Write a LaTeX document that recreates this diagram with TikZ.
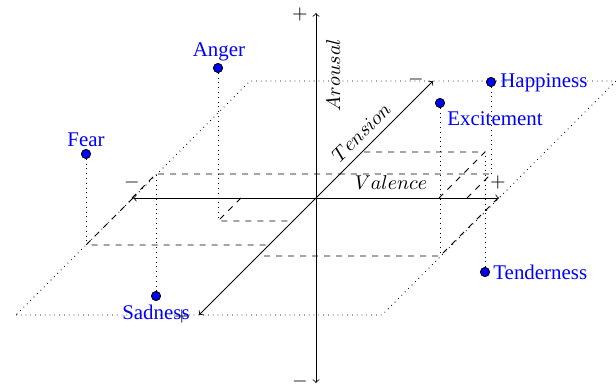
\documentclass[tikz,border=0pt]{standalone}
\usepackage{fontspec}
\setmainfont{Liberation Serif}
\begin{document}
\begin{tikzpicture}[x=0.5pt,y=0.5pt,
  emo/.style={circle,fill=blue,draw=black,line width=0.4pt,inner sep=0pt,minimum size=4.5pt},
  lbl/.style={text=blue,inner sep=0pt,font=\fontsize{10.45pt}{12.5pt}\selectfont},
  sgn/.style={inner sep=0pt,font=\fontsize{10.45pt}{12.5pt}\selectfont},
  axisline/.style={<->,black},
  projline/.style={dashed},
  dropline/.style={dotted},
  planeline/.style={dotted}]
\useasboundingbox (0,0) rectangle (616,386);
% plane
\coordinate (c1) at (16,71);
\coordinate (c2) at (382,71);
\coordinate (c3) at (616,305);
\coordinate (c4) at (250,305);
\draw[planeline] (c1) -- (c2) -- (c3) -- (c4) -- cycle;
% axes coordinates
\coordinate (O) at (316,188);
\coordinate (vneg) at (133,188);
\coordinate (vpos) at (499,188);
\coordinate (aneg) at (316,3);
\coordinate (apos) at (316,373);
\coordinate (tpos) at (199,71);
\coordinate (tneg) at (433,305);
% emotion points
\node[emo] (anger) at (218,318) {};
\node[emo] (fear) at (86,232) {};
\node[emo] (sad) at (156,90) {};
\node[emo] (hap) at (491,304) {};
\node[emo] (exc) at (440,283) {};
\node[emo] (ten) at (485,114) {};
% projections
\coordinate (angerp) at (218,165); \coordinate (angervf) at (241,188); \coordinate (angertf) at (293,165);
\coordinate (fearp) at (86,141);   \coordinate (fearvf) at (133,188);  \coordinate (feartf) at (269,141);
\coordinate (sadp) at (156,212);   \coordinate (sadvf) at (132,188);   \coordinate (sadtf) at (340,212);
\coordinate (happ) at (491,212);   \coordinate (hapvf) at (467,188);   \coordinate (haptf) at (340,212);
\coordinate (excp) at (440,130);   \coordinate (excvf) at (498,188);   \coordinate (exctf) at (258,130);
\coordinate (tenp) at (485,234);   \coordinate (tenvf) at (439,188);   \coordinate (tentf) at (362,234);
\foreach \p in {anger,fear,sad,hap,exc,ten}{
  \draw[projline] (\p vf) -- (\p p) -- (\p tf);
}
\draw[dropline] (anger) -- (angerp);
\draw[dropline] (fear) -- (fearp);
\draw[dropline] (sad) -- (sadp);
\draw[dropline] (hap) -- (happ);
\draw[dropline] (exc) -- (excp);
\draw[dropline] (ten) -- (tenp);
% axes
\draw[axisline] (vneg) -- (vpos);
\draw[axisline] (aneg) -- (apos);
\draw[axisline] (tpos) -- (tneg);
% signs
\node[sgn] (vm) at (132,203) {$-$};
\node[sgn] (vp) at (498,203) {$+$};
\node[sgn] (am) at (300,5) {$-$};
\node[sgn] (ap) at (300,371) {$+$};
\node[sgn] (tm) at (416,306) {$-$};
\node[sgn] (tp) at (182,70) {$+$};
% axis labels
\node[sgn,anchor=base] (vl) at (391,196) {$Valence$};
\node[sgn,rotate=90,anchor=base] (al) at (340,311) {$Arousal$};
\node[sgn,rotate=45,anchor=base] (tl) at (366,249) {$Tension$};
% redraw points on top
\foreach \p in {anger,fear,sad,hap,exc,ten}{
  \fill[blue,draw=black,line width=0.4pt] (\p) circle (2.25pt);
}
% labels
\node[lbl,anchor=base] (angerl) at (219,329) {Anger};
\node[lbl,anchor=base] (fearl) at (86,239) {Fear};
\node[lbl,anchor=base west] (hapl) at (500,298) {Happiness};
\node[lbl,anchor=base west] (excl) at (447,260) {Excitement};
\node[lbl,anchor=base west] (tenl) at (493,106) {Tenderness};
\node[lbl,anchor=base] (sadl) at (156,67) {Sadness};
\end{tikzpicture}
\end{document}
